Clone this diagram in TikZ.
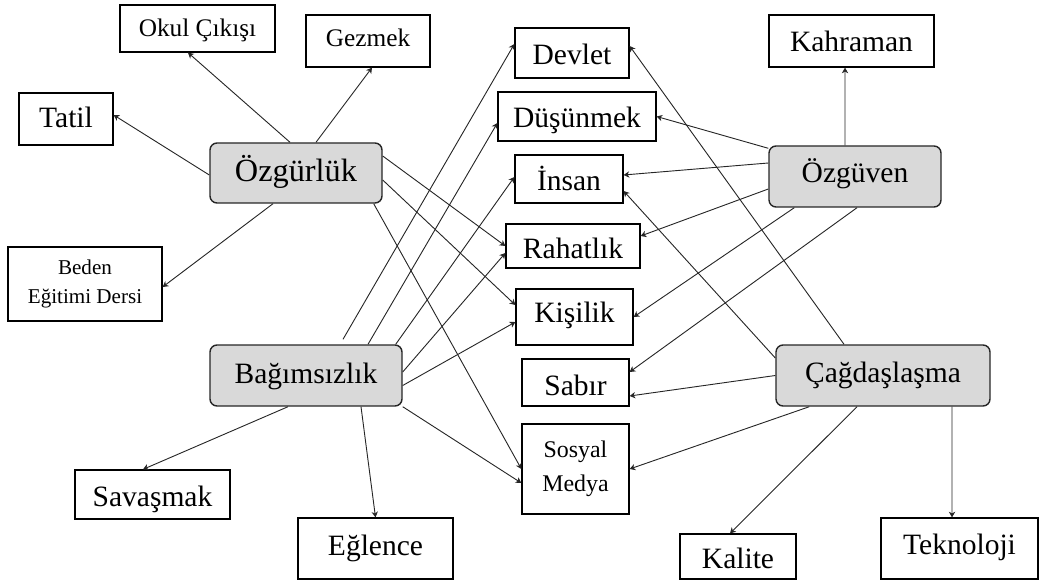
\documentclass[tikz,border=0pt]{standalone}
\usepackage{fontspec}
\setmainfont{Liberation Serif}
\usepackage{tikz}
\usetikzlibrary{arrows.meta}
\usetikzlibrary{calc}
\definecolor{boxgray}{HTML}{D9D9D9}
\definecolor{linegray}{HTML}{262626}
\begin{document}
\begin{tikzpicture}[x=2.5cm,y=2.5cm,
	concept/.style={draw=linegray,line width=1pt,rectangle,rounded corners=5pt,fill=boxgray,inner sep=0pt,align=center,font=\fontsize{21}{24}\selectfont},
	term/.style={draw=black,line width=0.9pt,rectangle,inner sep=0pt,align=center,font=\fontsize{21}{24}\selectfont},
	smalltext/.style={font=\fontsize{18}{21}\selectfont},
	textbase/.style={text height=#1,text depth=0cm},
	link/.style={draw=linegray,line width=0.65pt,-{Stealth[length=4pt,width=4.5pt,inset=1.2pt]}}]
				\useasboundingbox (0,0) rectangle (10.42,-5.80);
				\node[concept,textbase=0.45cm,minimum width=4.3cm,minimum height=1.5cm,font=\fontsize{23}{26}\selectfont] (OZGURLUK) at (2.96,-1.73) {Özgürlük};
				\node[concept,textbase=0.375cm,minimum width=4.8cm,minimum height=1.525cm] (BAGIMSIZLIK) at (3.06,-3.755) {Bağımsızlık};
				\node[concept,textbase=0.325cm,minimum width=4.3cm,minimum height=1.525cm] (OZGUVEN) at (8.55,-1.765) {Özgüven};
				\node[concept,textbase=0.325cm,minimum width=5.35cm,minimum height=1.525cm] (CAGDASLASMA) at (8.83,-3.755) {Çağdaşlaşma};
				\node[term,smalltext,textbase=0.425cm,minimum width=3.875cm,minimum height=1.175cm] (OKUL) at (1.975,-0.285) {Okul Çıkışı};
				\node[term,smalltext,textbase=0.3cm,minimum width=3.1cm,minimum height=1.3cm] (GEZMEK) at (3.68,-0.41) {Gezmek};
				\node[term,textbase=0.45cm,minimum width=2.35cm,minimum height=1.3cm] (TATIL) at (0.66,-1.19) {Tatil};
				\node[term,minimum width=3.85cm,minimum height=1.85cm,font=\fontsize{15}{20}\selectfont] (BEDEN) at (0.85,-2.84) {Beden\\Eğitimi Dersi};
				\node[term,textbase=0.6cm,minimum width=2.85cm,minimum height=1.25cm] (DEVLET) at (5.72,-0.53) {Devlet};
				\node[term,textbase=0.575cm,minimum width=3.95cm,minimum height=1.225cm] (DUSUNMEK) at (5.77,-1.165) {Düşünmek};
				\node[term,textbase=0.6cm,minimum width=2.7cm,minimum height=1.2cm] (INSAN) at (5.69,-1.79) {İnsan};
				\node[term,textbase=0.6cm,minimum width=3.35cm,minimum height=1.1cm] (RAHATLIK) at (5.73,-2.46) {Rahatlık};
				\node[term,textbase=0.3cm,minimum width=2.925cm,minimum height=1.4cm] (KISILIK) at (5.745,-3.17) {Kişilik};
				\node[term,textbase=0.625cm,minimum width=2.675cm,minimum height=1.175cm] (SABIR) at (5.755,-3.825) {Sabır};
				\node[term,minimum width=2.675cm,minimum height=2.25cm,font=\fontsize{17}{24}\selectfont] (SOSYAL) at (5.755,-4.69) {Sosyal\\Medya};
				\node[term,textbase=0.55cm,minimum width=4.125cm,minimum height=1.3cm] (KAHRAMAN) at (8.515,-0.41) {Kahraman};
				\node[term,textbase=0.575cm,minimum width=2.9cm,minimum height=1.125cm] (KALITE) at (7.38,-5.565) {Kalite};
				\node[term,textbase=0.275cm,minimum width=3.925cm,minimum height=1.525cm] (TEKNOLOJI) at (9.595,-5.485) {Teknoloji};
				\node[term,textbase=0.575cm,minimum width=3.875cm,minimum height=1.225cm] (SAVASMAK) at (1.525,-4.945) {Savaşmak};
				\node[term,textbase=0.325cm,minimum width=3.875cm,minimum height=1.525cm] (EGLENCE) at (3.755,-5.485) {Eğlence};
				\draw[link] ($(OZGURLUK.west)+(0,-0.02)$) -- ($(TATIL.east)+(0,0.04)$);
				\draw[link] ($(OZGURLUK.north)+(-0.06,0)$) -- ($(OKUL.south)+(-0.095,0)$);
				\draw[link] ($(OZGURLUK.north)+(0.20,0)$) -- ($(GEZMEK.south)+(0.04,0)$);
				\draw[link] ($(OZGURLUK.south)+(-0.23,0)$) -- ($(BEDEN.east)+(0,-0.03)$);
				\draw[link] ($(OZGURLUK.east)+(0,0.17)$) -- (RAHATLIK.west);
				\draw[link] ($(OZGURLUK.east)+(0,-0.07)$) -- ($(KISILIK.west)+(0,0.12)$);
				\draw[link] ($(OZGURLUK.south east)+(-0.09,0)$) -- (SOSYAL.west);
				\draw[link] ($(BAGIMSIZLIK.north)+(0.37,0.05)$) -- ($(DEVLET.west)+(0,0.09)$);
				\draw[link] ($(BAGIMSIZLIK.north)+(0.62,0)$) -- ($(DUSUNMEK.west)+(0,-0.065)$);
				\draw[link] ($(BAGIMSIZLIK.north east)+(-0.07,0)$) -- ($(INSAN.west)+(0,0.02)$);
				\draw[link] ($(BAGIMSIZLIK.east)+(0,0.035)$) -- ($(RAHATLIK.west)+(0,-0.07)$);
				\draw[link] ($(BAGIMSIZLIK.east)+(0,-0.10)$) -- ($(KISILIK.west)+(0,-0.05)$);
				\draw[link] (BAGIMSIZLIK.south east) -- ($(SOSYAL.west)+(0,-0.14)$);
				\draw[link] ($(BAGIMSIZLIK.south)+(-0.18,0)$) -- ($(SAVASMAK.north)+(-0.095,0)$);
				\draw[link] ($(BAGIMSIZLIK.south)+(0.55,0)$) -- (EGLENCE.north);
				\draw[link] ($(OZGUVEN.north)+(-0.10,0)$) -- ($(KAHRAMAN.south)+(-0.065,0)$);
				\draw[link] ($(OZGUVEN.north west)+(0,-0.03)$) -- (DUSUNMEK.east);
				\draw[link] ($(OZGUVEN.west)+(0,0.135)$) -- ($(INSAN.east)+(0,0.04)$);
				\draw[link] ($(OZGUVEN.west)+(0,-0.125)$) -- ($(RAHATLIK.east)+(0,0.10)$);
				\draw[link] ($(OZGUVEN.south west)+(0.26,0)$) -- (KISILIK.east);
				\draw[link] ($(OZGUVEN.south)+(0.02,0)$) -- ($(SABIR.east)+(0,0.105)$);
				\draw[link] ($(CAGDASLASMA.north)+(-0.39,0)$) -- ($(DEVLET.east)+(0,0.07)$);
				\draw[link] ($(CAGDASLASMA.west)+(0,0.175)$) -- ($(INSAN.east)+(0,-0.12)$);
				\draw[link] (CAGDASLASMA.west) -- ($(SABIR.east)+(0,-0.135)$);
				\draw[link] ($(CAGDASLASMA.south west)+(0.34,0)$) -- (SOSYAL.east);
				\draw[link] ($(CAGDASLASMA.south)+(-0.26,0)$) -- ($(KALITE.north)+(-0.08,0)$);
				\draw[link] ($(CAGDASLASMA.south)+(0.69,0)$) -- ($(TEKNOLOJI.north)+(-0.075,0)$);
\end{tikzpicture}
\end{document}
